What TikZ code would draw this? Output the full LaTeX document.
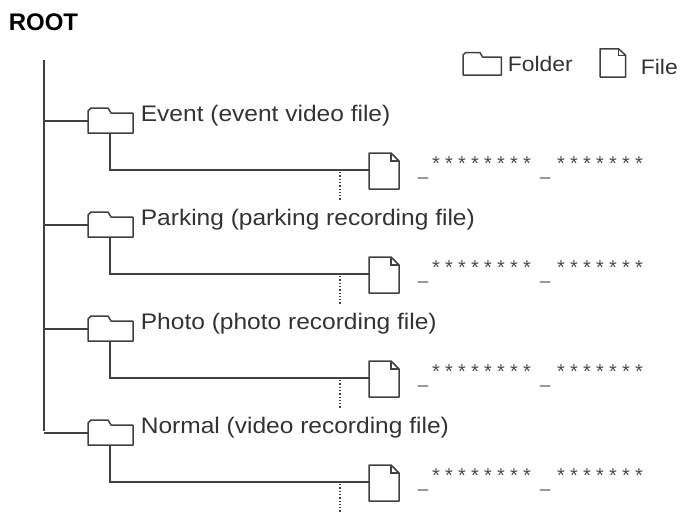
\documentclass[tikz,border=0pt]{standalone}
\usepackage{fontspec}
\setmainfont{Liberation Sans}
\begin{document}
\begin{tikzpicture}[x=1pt,y=-1pt,line width=1.6pt,
  lbl/.style={anchor=west,inner sep=0pt,font=\fontsize{22.5}{22}\selectfont,text=black!80,xscale=1.09},
  stars/.style={anchor=center,inner sep=0pt,font=\fontsize{20}{20}\selectfont,text=black!70},
  folder/.pic={\draw[black!75,line width=1.5pt,line join=round] (0,0) -- (0,-22) -- (3,-25) -- (20,-25) -- (23,-20) -- (45,-20) -- (45,0) -- cycle;},
  filepic/.pic={\draw[black!75,line width=1.5pt,line join=round] (0,0) -- (0,-36) -- (22,-36) -- (30,-28) -- (30,0) -- cycle; \draw[black!75,line width=1.2pt] (22,-36) -- (22,-28) -- (30,-28);}]
\useasboundingbox (0,0) rectangle (692,512);
\node[anchor=west,inner sep=0pt,font=\bfseries\fontsize{24}{24}\selectfont] (root) at (8,22) {ROOT};
% legend
\pic[xscale=0.85,yscale=0.9] at (463,75) {folder};
\node[lbl,font=\fontsize{21}{21}\selectfont,xscale=1] (lf) at (507,64) {Folder};
\pic[xscale=0.85,yscale=0.78] at (600,77) {filepic};
\node[lbl,font=\fontsize{21}{21}\selectfont,xscale=1] (lfi) at (640,67) {File};
\coordinate (top) at (44,60);
\coordinate (bot) at (44,431);
\draw[black!75] (top) -- (bot);
\foreach \y/\t [count=\i] in {0/Event (event video file),104/Parking (parking recording file),208/Photo (photo recording file),312/Normal (video recording file)}{
  \coordinate (b\i) at (44,121+\y);
  \coordinate (f\i) at (88,121+\y);
  \draw[black!75] (b\i) -- (f\i);
  \pic at (88,133+\y) {folder};
  \node[lbl] (t\i) at (140,116+\y) {\t};
  \coordinate (s\i) at (110,133+\y);
  \coordinate (c\i) at (110,170+\y);
  \coordinate (e\i) at (369,170+\y);
  \draw[black!75] (s\i) -- (c\i) -- (e\i);
  \draw[black!75,dotted,line width=1.3pt] (340,172+\y) -- (340,200+\y);
  \pic at (369,189+\y) {filepic};
  \node[stars,font=\fontsize{18}{18}\selectfont] (u\i) at (423,177+\y) {\_};
  \node[stars,font=\fontsize{18}{18}\selectfont] (v\i) at (545,177+\y) {\_};
  \foreach \k in {0,...,7}{\node[stars] at (436+13*\k,164+\y) {*};}
  \foreach \k in {0,...,6}{\node[stars] at (561+13*\k,164+\y) {*};}
}
\end{tikzpicture}
\end{document}
